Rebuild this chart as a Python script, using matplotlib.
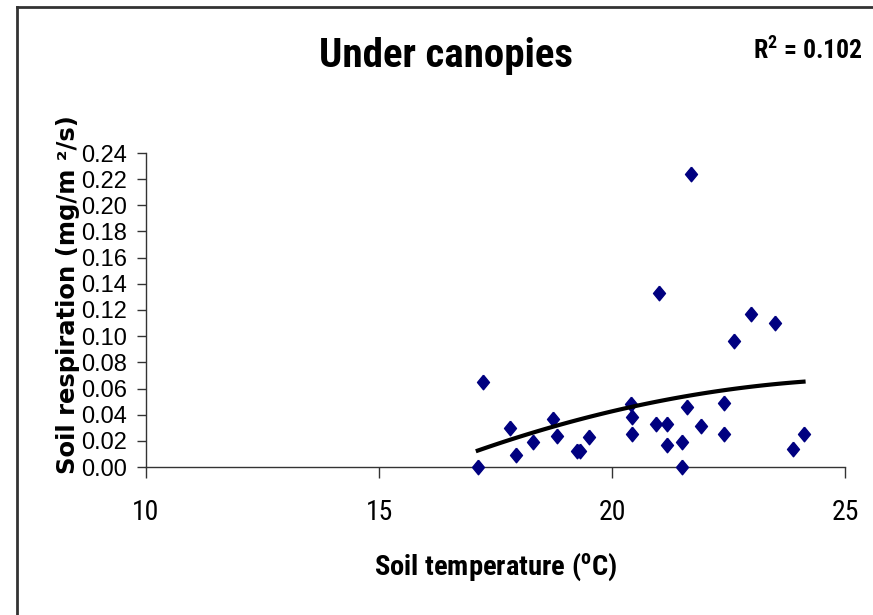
"""Soil respiration vs soil temperature under canopies (scatter + quadratic trend)."""

import matplotlib
matplotlib.use("Agg")
import matplotlib.pyplot as plt
import numpy as np
from matplotlib.lines import Line2D

# soil temperature (deg C) and soil respiration (mg/m2/s)
soil_temp = [17.12, 17.24, 17.81, 17.94, 18.31, 18.74, 18.81, 19.24, 19.32, 19.51,
             20.41, 20.43, 20.43, 21.00, 20.94, 21.19, 21.19, 21.51, 21.51, 21.61,
             21.69, 21.92, 22.41, 22.41, 22.61, 22.99, 23.50, 23.88, 24.11]
soil_resp = [0.000, 0.065, 0.030, 0.009, 0.019, 0.037, 0.024, 0.012, 0.012, 0.023,
             0.048, 0.038, 0.025, 0.133, 0.033, 0.033, 0.017, 0.019, 0.000, 0.046,
             0.224, 0.031, 0.049, 0.025, 0.096, 0.117, 0.110, 0.014, 0.025]
x_ticks = [10, 15, 20, 25]
y_ticks = [0.00, 0.02, 0.04, 0.06, 0.08, 0.10, 0.12, 0.14, 0.16, 0.18, 0.20, 0.22, 0.24]
r_squared = 0.102

NARROW = ["Roboto Condensed", "Liberation Sans", "DejaVu Sans"]
plt.rcParams["font.family"] = ["Liberation Sans", "DejaVu Sans"]
plt.rcParams["mathtext.fontset"] = "custom"
plt.rcParams["mathtext.rm"] = "Roboto Condensed"
plt.rcParams["mathtext.bf"] = "Roboto Condensed:bold"

W, H = 873, 615
fig = plt.figure(figsize=(W / 100, H / 100), dpi=100)
ax = fig.add_axes([146 / W, 148 / H, 699 / W, 314 / H])

# outer frame (only the left and top edges are inside the crop)
fig.add_artist(Line2D([16.5 / W, 16.5 / W], [0, 1 - 7 / H], transform=fig.transFigure,
                      color="#333333", lw=2))
fig.add_artist(Line2D([16.5 / W, 1], [1 - 7 / H, 1 - 7 / H], transform=fig.transFigure,
                      color="#333333", lw=2))

diamond = [(0, 1), (0.82, 0), (0, -1), (-0.82, 0), (0, 1)]
ax.plot(soil_temp, soil_resp, linestyle="none", marker=diamond, markersize=10.5,
        color="#000080", zorder=3, clip_on=False)

# quadratic trendline
coef = np.polyfit(soil_temp, soil_resp, 2)
xs = np.linspace(min(soil_temp), max(soil_temp), 100)
ax.plot(xs, np.polyval(coef, xs), color="black", lw=3, zorder=4)

ax.set_xlim(10, 25)
ax.set_ylim(0, 0.24)
ax.set_xticks(x_ticks)
ax.set_yticks(y_ticks)
ax.set_yticklabels([f"{v:.2f}" for v in y_ticks])
ax.spines["top"].set_visible(False)
ax.spines["right"].set_visible(False)
for s in ("left", "bottom"):
    ax.spines[s].set_color("#333333")
    ax.spines[s].set_linewidth(1)
ax.tick_params(axis="y", direction="out", length=6.5, color="#333333", width=1,
               labelsize=17, pad=7)
ax.tick_params(axis="x", direction="out", length=8, color="#333333", width=1,
               labelsize=20, pad=15)
for lab in ax.get_xticklabels():
    lab.set_family(NARROW)

ax.set_xlabel(r"Soil temperature ($^{\mathbf{o}}$C)", fontsize=20.5, fontweight="bold",
              family=NARROW)
ax.xaxis.set_label_coords((496 - 146) / 699, (467 - 551) / 314)
ax.set_ylabel("Soil respiration (mg/m ²/s)", fontsize=17.5, fontweight="bold",
              family=["DejaVu Sans"])
ax.yaxis.set_label_coords((80 - 146) / 699, (467 - 295) / 314)

fig.text(446 / W, 1 - 67 / H, "Under canopies", fontsize=29.5, fontweight="bold",
         family=NARROW, ha="center", va="baseline")
fig.text(808 / W, 1 - 59 / H, r"R$^{\mathbf{2}}$ = " + f"{r_squared}", fontsize=18.5,
         fontweight="bold", family=NARROW, ha="center", va="baseline")

fig.savefig("out.png", dpi=100)
